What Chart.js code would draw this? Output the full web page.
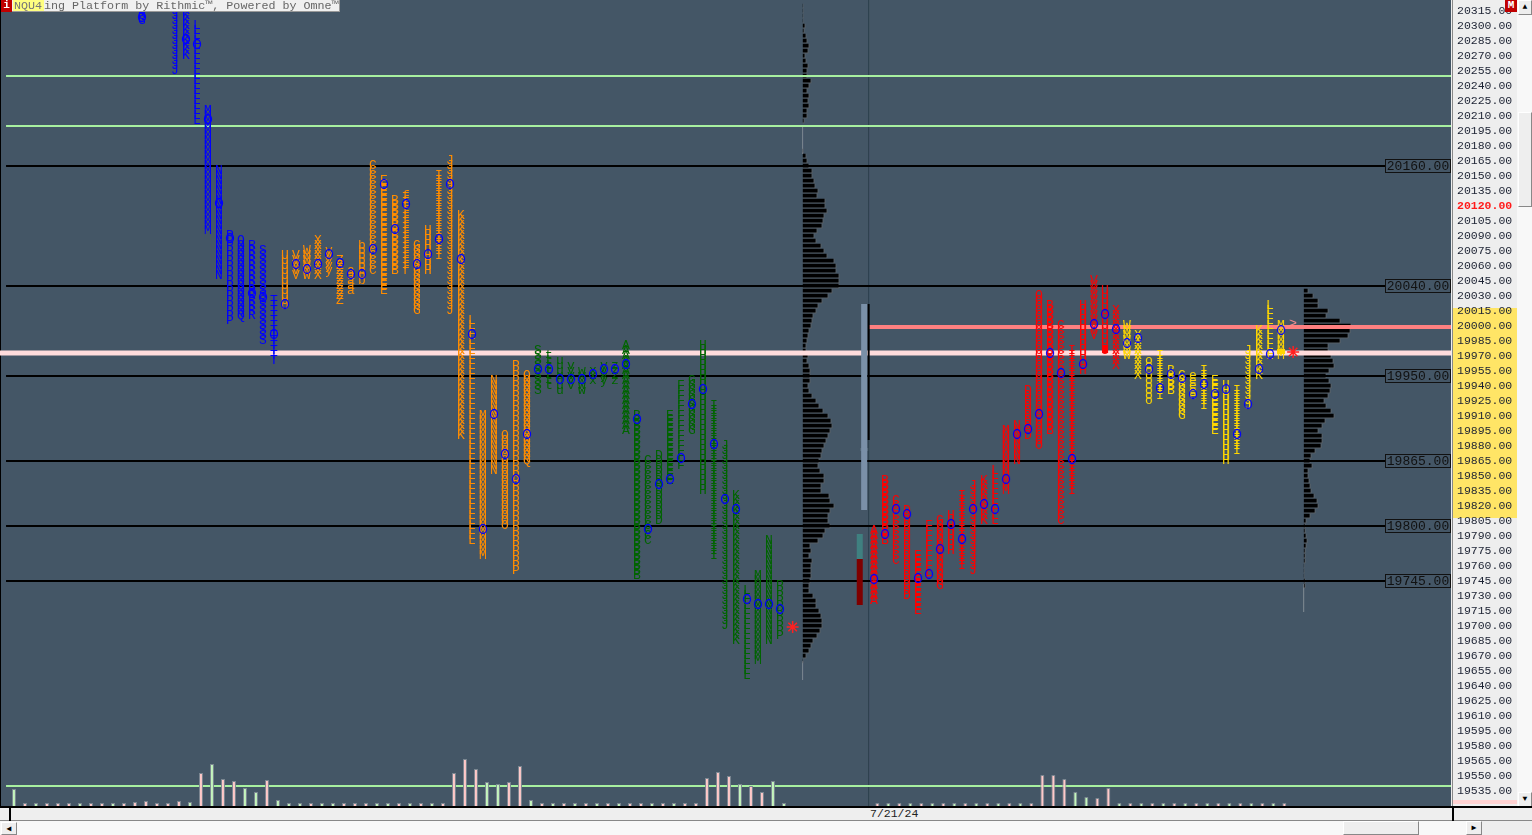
<!DOCTYPE html>
<html>
<head>
<meta charset="utf-8">
<title>NQU4 market profile</title>
<script src="https://cdn.jsdelivr.net/npm/chart.js@4"></script>
<style>
  html, body { margin: 0; padding: 0; background: #f8f8f8; overflow: hidden; }
  #wrap { position: relative; width: 1532px; height: 835px; font-family: "Liberation Mono", monospace; }
  canvas { position: absolute; left: 0; top: 0; }
  .box { position: absolute; box-sizing: border-box; }
  .btn { background: #eee; border: 1px solid #fff; border-right-color: #888; border-bottom-color: #888; font-size: 8px; line-height: 12px; text-align: center; color: #000; }
</style>
</head>
<body>
<div id="wrap">
  <canvas id="chart" width="1532" height="835"></canvas>

  <div class="box" style="left:12px;top:0;width:328px;height:12px;background:#f0f0f0;border-right:1px solid #999;border-bottom:1px solid #999;font-size:11.7px;line-height:12px;color:#666;white-space:pre;padding-left:32px;">ing Platform by Rithmic™, Powered by Omne™</div>
  <div class="box" style="left:13px;top:0;width:31px;height:11px;background:#ffff80;font-size:11.7px;line-height:12px;color:#777;padding-left:1px;">NQU4</div>
  <div class="box" style="left:1px;top:0;width:11px;height:12px;background:#c00000;color:#fff;font-size:11px;font-weight:bold;line-height:11px;text-align:center;">i</div>
  <div class="box" style="left:1505px;top:0;width:12px;height:12px;background:#c00000;color:#fff;font-size:11px;font-weight:bold;line-height:11px;text-align:center;">M</div>

  <div class="box" style="left:1517px;top:0;width:15px;height:806px;background:#f8f8f8;"></div>
  <div class="box btn" style="left:1518px;top:0;width:14px;height:15px;">▲</div>
  <div class="box btn" style="left:1518px;top:112px;width:14px;height:95px;"></div>
  <div class="box btn" style="left:1518px;top:792px;width:14px;height:15px;">▼</div>

  <div class="box" style="left:0;top:806px;width:1532px;height:15px;background:#eee;border-top:2px solid #000;border-bottom:1px solid #888;"></div>
  <div class="box" style="left:1452px;top:806px;width:2px;height:15px;background:#000;"></div>
  <div class="box" style="left:9px;top:806px;width:2px;height:15px;background:#000;"></div>
  <div class="box" style="left:870px;top:808px;font-size:11.5px;line-height:12px;color:#222;">7/21/24</div>
  <div class="box btn" style="left:1px;top:822px;width:16px;height:13px;">◀</div>
  <div class="box btn" style="left:1343px;top:821px;width:76px;height:14px;"></div>
  <div class="box btn" style="left:1466px;top:821px;width:16px;height:14px;">▶</div>
  <div class="box" style="left:1482px;top:821px;width:50px;height:14px;background:#eee;"></div>
</div>

<script>
// price axis labels
var priceTicks = [20315, 20300, 20285, 20270, 20255, 20240, 20225, 20210, 20195, 20180, 20165, 20150, 20135, 20120,
  20105, 20090, 20075, 20060, 20045, 20030, 20015, 20000, 19985, 19970, 19955, 19940, 19925, 19910, 19895, 19880,
  19865, 19850, 19835, 19820, 19805, 19790, 19775, 19760, 19745, 19730, 19715, 19700, 19685, 19670, 19655, 19640,
  19625, 19610, 19595, 19580, 19565, 19550, 19535];

// horizontal levels
var blackLevels = [20160, 20040, 19950, 19865, 19800, 19745];
var greenLevels = [20250, 20200, 19540];
var pinkLevel = 19973;
var salmonLevel = 19999;

// session 1 (blue), H and I are above the visible range
var blueLetters = ["G", "H", "I", "J", "K", "L", "M", "N", "P", "Q", "R", "S", "T"];
var blueHighs = [20315, null, null, 20315, 20315, 20300, 20215, 20155, 20090, 20085, 20080, 20075, 20025];
var blueLows = [20305, null, null, 20255, 20270, 20205, 20095, 20050, 20005, 20010, 20010, 19985, 19965];
var blueOpens = [20309, null, null, null, 20287, 20282, 20207, 20123, 20088, null, 20033, 20029, 19992];

// session 2 (orange)
var orangeLetters = ["U", "V", "W", "X", "y", "Z", "a", "b", "C", "E", "B", "f", "G", "H", "I", "J", "K", "L", "M", "N", "O", "P", "Q"];
var orangeHighs = [20070, 20070, 20075, 20085, 20075, 20065, 20055, 20080, 20160, 20145, 20125, 20130, 20080, 20095, 20150, 20165, 20110, 20005, 19910, 19945, 19890, 19960, 19950];
var orangeLows = [20020, 20050, 20050, 20050, 20055, 20025, 20035, 20045, 20055, 20035, 20055, 20055, 20015, 20055, 20070, 20015, 19890, 19785, 19770, 19855, 19800, 19755, 19865];
var orangeOpens = [20022, 20062, 20057, 20062, 20072, 20063, 20052, 20052, 20077, 20142, 20097, 20122, 20062, 20072, 20087, 20142, 20067, 19992, 19797, 19912, 19872, 19847, 19892];

// session 3 (green)
var greenLetters = ["S", "t", "u", "v", "w", "x", "y", "z", "A", "B", "C", "D", "E", "F", "G", "H", "I", "J", "K", "L", "M", "N", "P"];
var greenHighs = [19975, 19970, 19965, 19960, 19955, 19955, 19960, 19960, 19980, 19910, 19865, 19870, 19910, 19940, 19945, 19980, 19920, 19880, 19830, 19735, 19750, 19785, 19740];
var greenLows = [19935, 19940, 19935, 19940, 19935, 19945, 19945, 19945, 19895, 19750, 19785, 19805, 19845, 19860, 19895, 19835, 19770, 19700, 19685, 19650, 19665, 19685, 19690];
var greenOpens = [19957, 19957, 19947, 19947, 19947, 19952, 19957, 19957, 19962, 19907, 19797, 19842, 19847, 19868, 19922, 19937, 19882, 19827, 19817, 19727, 19722, 19722, 19717];

// session 4 (red)
var redLetters = ["A", "B", "C", "D", "E", "F", "G", "H", "I", "J", "K", "L", "M", "N", "D", "O", "B", "C", "I", "H", "V", "U", "X"];
var redHighs = [19795, 19845, 19825, 19815, 19770, 19800, 19805, 19810, 19830, 19840, 19845, 19855, 19895, 19900, 19935, 20030, 20020, 20000, 19975, 20020, 20045, 20035, 20015];
var redLows = [19725, 19785, 19765, 19730, 19715, 19750, 19740, 19775, 19760, 19755, 19805, 19805, 19835, 19865, 19890, 19880, 19895, 19805, 19835, 19955, 19990, 19975, 19960];
var redOpens = [19747, 19792, 19817, 19812, 19748, 19752, 19777, 19802, 19787, 19817, 19822, 19817, 19847, 19892, 19897, 19912, 19973, 19953, 19867, 19962, 20002, 20012, 19997];

// session 4 continued (yellow)
var yellowLetters = ["W", "X", "o", "I", "B", "G", "e", "I", "E", "H", "I", "J", "K", "L", "M"];
var yellowHighs = [20000, 19990, 19965, 19970, 19955, 19950, 19950, 19955, 19945, 19940, 19935, 19975, 19995, 20020, 20000];
var yellowLows = [19970, 19950, 19925, 19930, 19935, 19910, 19930, 19920, 19895, 19865, 19875, 19920, 19950, 19970, 19970];
var yellowOpens = [19983, 19988, 19957, 19938, 19952, 19948, 19932, 19942, 19932, 19937, 19892, 19922, 19957, 19972, 19996];

// volume profiles, one width per 5 point row going down from the top price
var profile1Top = 20320;
var profile1Widths = [1, 1, 1, 1, 3, 2, 4, 5, 7, 6, 3, 4, 6, 5, 5, 9, 7, 5, 7, 6, 7, 5, 5, 2, 0, 0, 0, 0, 0,
  1, 4, 5, 7, 10, 10, 12, 13, 16, 15, 23, 23, 25, 22, 21, 20, 15, 12, 14, 19, 22, 25, 32, 34, 34, 37, 37, 37, 30, 26,
  20, 16, 14, 11, 10, 9, 7, 6, 5, 4, 4, 6, 5, 7, 8, 8, 8, 6, 7, 10, 14, 17, 21, 26, 29, 30, 28, 26, 24, 22, 20, 19, 17, 16, 18, 22,
  22, 19, 19, 27, 28, 32, 28, 26, 26, 28, 23, 21, 16, 8, 9, 7, 10, 9, 9, 9, 8, 7, 7, 11, 14, 14, 17, 19, 20, 20, 18, 15, 11, 9, 7, 4, 1];
var profile2Top = 20035;
var profile2Widths = [5, 10, 15, 15, 25, 23, 37, 48, 47, 45, 37, 25, 25, 28, 30, 31, 26, 23, 26, 28, 27, 25, 21, 23, 28, 31, 22, 19, 15, 19, 19, 18, 12, 8, 7, 9,
  5, 5, 6, 7, 8, 11, 14, 15, 12, 7, 3, 2, 2, 3, 4, 3, 2, 2, 2, 1, 1, 1, 2, 2];

// bottom bars, g = up, p = down
var vol1Heights = [17, 3, 3, 3, 3, 3, 3, 3, 3, 3, 3, 4, 5, 3, 3, 5, 4, 33, 42, 27, 25, 18, 14, 26, 6, 3, 3, 3, 3, 3, 3, 3, 3, 3, 3, 3, 3, 3, 3, 3,
  33, 47, 37, 24, 22, 24, 40, 6, 3, 3, 3, 3, 3, 3, 3, 3, 3, 3, 3, 3, 3, 3, 3, 28, 34, 30, 22, 20, 14, 25, 3];
var vol1Sides = "gpgpppgppgppppppgpgppggpgggpggpppggpgpgp" + "pppggppgpgpgpgpgppgpgpp" + "pppgppgg";
var vol2Heights = [3, 3, 3, 3, 3, 3, 3, 3, 3, 3, 3, 3, 3, 3, 3, 31, 31, 27, 14, 9, 8, 18, 3, 3, 3, 3, 3, 3, 3, 3, 3, 3, 3, 3, 3, 3, 3, 3];
var vol2Sides = "pgpgpgpgpgpgpgppppggppgpgpgpgpgpgpgpgp";

// value area markers at the start of the last session
var vaBarRange = [19816, 20022];
var vaLineRange = [19886, 20022];
var vaHandleRange = [19875, 19878];
var openUpRange = [19767, 19792];
var openDownRange = [19721, 19767];

// stacked rows that read as solid blocks
var redBlockRange = [19973, 19981];
var yellowBlockRange = [19972, 19977];

// columns and special marks
var blueFirstCol = 12, orangeFirstCol = 25, greenFirstCol = 48, redFirstCol = 78.55, yellowFirstCol = 101.55;
var profile1Col = 72.05, profile2Col = 117.6, vaCol = 77.65, openCol = 77.25;
var closeMarks = [{ x: 71.15, y: 19699 }, { x: 116.65, y: 19974 }];
var caretMark = [{ x: 116.65, y: 20002, letter: ">" }];
var yellowBand = [19808, 20018];

var xMin = -10 / 11, xMax = 131;
var panelBg = "#445666";

// small canvases used as point styles for the letters
var sprites = {};
function letterSprite(letter, color) {
  var key = letter + color;
  if (!sprites[key]) {
    var c = document.createElement("canvas");
    c.width = 12; c.height = 12;
    var g = c.getContext("2d");
    g.font = "13px 'Liberation Mono'";
    g.textAlign = "center";
    g.textBaseline = "middle";
    g.fillStyle = color;
    g.fillText(letter, 6, 6);
    sprites[key] = c;
  }
  return sprites[key];
}
function openSprite() {
  if (!sprites.open) {
    var c = document.createElement("canvas");
    c.width = 12; c.height = 14;
    var g = c.getContext("2d");
    g.strokeStyle = "#0000ff";
    g.lineWidth = 1.3;
    g.beginPath();
    g.ellipse(6, 7, 3.5, 4.5, 0, 0, Math.PI * 2);
    g.stroke();
    sprites.open = c;
  }
  return sprites.open;
}

// one point per 5 point row between each column's high and low
function tpoDataset(letters, firstCol, highs, lows, color) {
  var pts = [];
  letters.forEach(function (letter, i) {
    if (highs[i] === null) return;
    for (var p = highs[i]; p >= lows[i]; p -= 5) {
      pts.push({ x: firstCol + i, y: p, letter: letter });
    }
  });
  return {
    type: "scatter", yAxisID: "y", data: pts, order: 2, pointRadius: 4, pointBorderWidth: 0,
    pointStyle: function (ctx) { return ctx.raw ? letterSprite(ctx.raw.letter, color) : "circle"; }
  };
}

function opensDataset(opens, firstCol) {
  var pts = [];
  opens.forEach(function (p, i) { if (p !== null) pts.push({ x: firstCol + i, y: p }); });
  return { type: "scatter", yAxisID: "y", data: pts, order: 1, pointRadius: 4, pointBorderWidth: 0, pointStyle: openSprite() };
}

function levelLine(price, fromX, color, width) {
  return {
    type: "line", yAxisID: "y", data: [{ x: fromX, y: price }, { x: xMax, y: price }], order: 10,
    borderColor: color, borderWidth: width, pointRadius: 0, tension: 0
  };
}

function profileDataset(topPrice, widths, col) {
  var pts = [];
  widths.forEach(function (w, i) {
    if (w > 0) pts.push({ x: [col, col + w / 11], y: topPrice - i * 5 });
  });
  return {
    type: "bar", yAxisID: "y", indexAxis: "y", data: pts, order: 12, grouped: false, barThickness: 5, inflateAmount: 0,
    backgroundColor: "#000", borderColor: "#6a6a6a", borderWidth: { top: 0, left: 0, right: 1, bottom: 1 }, borderSkipped: false
  };
}

function tailLine(col, from, to) {
  return {
    type: "line", yAxisID: "y", data: [{ x: col, y: from }, { x: col, y: to }], order: 13,
    borderColor: "#77838c", borderWidth: 1, pointRadius: 0
  };
}

function volumeDataset(heights, sides, firstCol) {
  var pts = heights.map(function (h, i) { return { x: firstCol + i, y: h }; });
  return {
    type: "bar", yAxisID: "yVol", data: pts, order: 9, grouped: false, barThickness: 4, inflateAmount: 0,
    backgroundColor: function (ctx) { return sides[ctx.dataIndex] === "g" ? "#c4f5bd" : "#ffc9c9"; },
    borderColor: "#7b8791", borderWidth: 1, borderSkipped: "bottom"
  };
}

function rangeBar(col, range, color, width, order) {
  return {
    type: "bar", yAxisID: "y", data: [{ x: col, y: range }], order: order || 8, grouped: false, barThickness: width, inflateAmount: 0,
    backgroundColor: color, borderWidth: 0
  };
}

var datasets = [];
blackLevels.forEach(function (p) { datasets.push(levelLine(p, -0.36, "#000", 2)); });
greenLevels.forEach(function (p) { datasets.push(levelLine(p, -0.36, "#a8f0a0", 2)); });
datasets.push(levelLine(pinkLevel, xMin, "#ffdcdc", 5));
datasets.push(levelLine(salmonLevel, 78.05, "#ff8080", 4));
datasets.push(profileDataset(profile1Top, profile1Widths, profile1Col));
datasets.push(profileDataset(profile2Top, profile2Widths, profile2Col));
datasets.push(tailLine(profile1Col, 20200, 20172));
datasets.push(tailLine(profile1Col, 19665, 19646));
datasets.push(tailLine(profile2Col, 19742, 19714));
datasets.push(volumeDataset(vol1Heights, vol1Sides, 0.36));
datasets.push(volumeDataset(vol2Heights, vol2Sides, 78.85));
datasets.push(rangeBar(vaCol, vaBarRange, "#7a90a8", 6));
datasets.push(rangeBar(vaCol + 0.41, vaLineRange, "#000", 2));
datasets.push(rangeBar(vaCol, vaHandleRange, "#566a7a", 8));
datasets.push(rangeBar(openCol, openUpRange, "#3f8080", 6));
datasets.push(rangeBar(openCol, openDownRange, "#7f0000", 6));
datasets.push(rangeBar(redFirstCol + 21, redBlockRange, "#ff0000", 6, 3));
datasets.push(rangeBar(yellowFirstCol + 14, yellowBlockRange, "#ffd700", 8, 3));
datasets.push({
  type: "line", yAxisID: "y", data: [{ x: 78.05, y: 20326 }, { x: 78.05, y: 19520 }], order: 11,
  borderColor: "#2f4250", borderWidth: 1, pointRadius: 0
});
datasets.push(tpoDataset(blueLetters, blueFirstCol, blueHighs, blueLows, "#0000ff"));
datasets.push(tpoDataset(orangeLetters, orangeFirstCol, orangeHighs, orangeLows, "#ff8c00"));
datasets.push(tpoDataset(greenLetters, greenFirstCol, greenHighs, greenLows, "#006400"));
datasets.push(tpoDataset(redLetters, redFirstCol, redHighs, redLows, "#ff0000"));
datasets.push(tpoDataset(yellowLetters, yellowFirstCol, yellowHighs, yellowLows, "#ffd700"));
datasets.push(opensDataset(blueOpens, blueFirstCol));
datasets.push(opensDataset(orangeOpens, orangeFirstCol));
datasets.push(opensDataset(greenOpens, greenFirstCol));
datasets.push(opensDataset(redOpens, redFirstCol));
datasets.push(opensDataset(yellowOpens, yellowFirstCol));
datasets.push({
  type: "scatter", yAxisID: "y", data: closeMarks, order: 0, pointStyle: "star", pointRadius: 6,
  pointBorderColor: "#ff2020", pointBorderWidth: 1.5
});
datasets.push({
  type: "scatter", yAxisID: "y", data: caretMark, order: 0, pointRadius: 4, pointBorderWidth: 0,
  pointStyle: letterSprite(">", "#ff9090")
});

// backgrounds behind the plot and the price axis
var panelPlugin = {
  id: "panels",
  beforeDraw: function (chart) {
    var c = chart.ctx, a = chart.chartArea, y = chart.scales.y;
    c.save();
    c.fillStyle = panelBg;
    c.fillRect(a.left, a.top, a.right - a.left, a.bottom - a.top);
    c.fillStyle = "#000";
    c.fillRect(a.left, a.top, 1, a.bottom - a.top);
    c.fillStyle = "#eeeeee";
    c.fillRect(a.right, a.top, 66, a.bottom - a.top);
    c.fillStyle = "#888";
    c.fillRect(a.right + 1, a.top, 1, a.bottom - a.top);
    c.fillStyle = "#ffe566";
    var top = y.getPixelForValue(yellowBand[1]), bottom = y.getPixelForValue(yellowBand[0]);
    c.fillRect(a.right + 2, top, 64, bottom - top);
    c.fillStyle = "#ffd2d2";
    c.fillRect(a.right + 2, a.bottom - 6, 64, 4);
    c.restore();
  },
  afterDatasetsDraw: function (chart) {
    // boxed price labels at the right end of the black levels
    var c = chart.ctx, a = chart.chartArea, y = chart.scales.y;
    c.save();
    c.font = "13px 'Liberation Mono'";
    c.textAlign = "center";
    c.textBaseline = "middle";
    blackLevels.forEach(function (p) {
      var py = Math.round(y.getPixelForValue(p));
      c.fillStyle = panelBg;
      c.fillRect(a.right - 66, py - 7, 65, 14);
      c.strokeStyle = "#111";
      c.lineWidth = 1;
      c.strokeRect(a.right - 65.5, py - 6.5, 65, 13);
      c.fillStyle = "#111";
      c.fillText(p.toFixed(2), a.right - 33, py + 0.5);
    });
    c.restore();
  }
};

new Chart(document.getElementById("chart"), {
  type: "scatter",
  data: { datasets: datasets },
  plugins: [panelPlugin],
  options: {
    responsive: false,
    animation: false,
    devicePixelRatio: 1,
    events: [],
    layout: { autoPadding: false, padding: { left: 0, top: 0, right: 0, bottom: 29 } },
    plugins: { legend: { display: false }, tooltip: { enabled: false } },
    scales: {
      x: { type: "linear", min: xMin, max: xMax, display: false, offset: false },
      y: {
        type: "linear", position: "right", min: 19520, max: 20326, offset: false,
        grid: { display: false, drawTicks: false },
        border: { display: false },
        afterBuildTicks: function (scale) {
          scale.ticks = priceTicks.map(function (v) { return { value: v }; });
        },
        afterFit: function (scale) {
          scale.width = 81;
          scale.paddingTop = 0;
          scale.paddingBottom = 0;
        },
        ticks: {
          autoSkip: false,
          padding: 6,
          font: function (ctx) {
            return { family: "'Liberation Mono'", size: 11.5, weight: ctx.tick && ctx.tick.value === 20120 ? "bold" : "normal" };
          },
          color: function (ctx) { return ctx.tick && ctx.tick.value === 20120 ? "#ff1a1a" : "#1c2233"; },
          callback: function (v) { return v.toFixed(2); }
        }
      },
      yVol: { type: "linear", min: 0, max: 806, display: false, offset: false }
    }
  }
});
</script>
</body>
</html>
